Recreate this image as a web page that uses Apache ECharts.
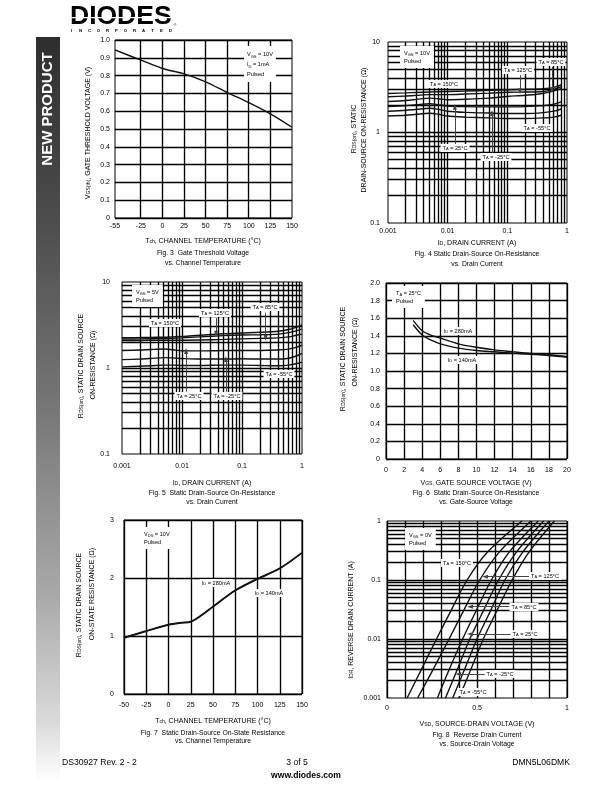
<!DOCTYPE html>
<html><head><meta charset="utf-8">
<script src="https://cdn.jsdelivr.net/npm/echarts@6/dist/echarts.min.js"></script>
<style>html,body{margin:0;padding:0;background:#fff}#c{width:612px;height:792px}</style>
</head><body><div id="c"></div>
<script>
// ================= DATA =================
// Fig 3  Gate threshold voltage vs channel temperature
const fig3Temp = [-55, -25, 0, 25, 50, 75, 100, 125, 150];
const fig3Vth  = [0.944, 0.887, 0.840, 0.810, 0.765, 0.705, 0.648, 0.585, 0.510];
const fig3XTicks = [-55, -25, 0, 25, 50, 75, 100, 125, 150];
const fig3XGrid  = [-25, 0, 25, 50, 75, 100, 125];

// Fig 4  RDS(on) vs ID, VGS = 10V
const fig4Id   = [0.001, 0.002, 0.003, 0.005, 0.007, 0.01, 0.02, 0.05, 0.1, 0.2, 0.4, 0.6, 0.8];
const fig4T150 = [2.70, 2.74, 2.77, 2.80, 2.82, 2.84, 2.87, 2.92, 2.97, 3.00, 3.05, 3.15, 3.35];
const fig4T125 = [2.48, 2.53, 2.57, 2.62, 2.62, 2.62, 2.66, 2.72, 2.78, 2.80, 2.84, 3.00, 3.20];
const fig4T85  = [2.20, 2.26, 2.32, 2.40, 2.36, 2.30, 2.33, 2.40, 2.50, 2.58, 2.70, 2.88, 3.05];
const fig4T25  = [1.93, 1.98, 2.03, 2.08, 2.03, 1.96, 1.93, 1.92, 1.92, 1.93, 1.98, 2.05, 2.18];
const fig4Tm25 = [1.72, 1.76, 1.80, 1.85, 1.80, 1.72, 1.67, 1.64, 1.62, 1.62, 1.66, 1.72, 1.82];
const fig4Tm55 = [1.52, 1.55, 1.59, 1.63, 1.59, 1.52, 1.48, 1.45, 1.43, 1.43, 1.45, 1.48, 1.55];

// Fig 5  RDS(on) vs ID, VGS = 5V
const fig5Id   = [0.001, 0.002, 0.003, 0.005, 0.007, 0.01, 0.02, 0.05, 0.1, 0.2, 0.4, 0.6, 0.8, 1.0];
const fig5T150 = [2.25, 2.26, 2.27, 2.28, 2.30, 2.32, 2.40, 2.50, 2.55, 2.60, 2.68, 2.80, 2.98, 3.17];
const fig5T125 = [2.17, 2.18, 2.19, 2.20, 2.22, 2.24, 2.30, 2.38, 2.42, 2.44, 2.48, 2.58, 2.70, 2.83];
const fig5T85  = [2.08, 2.09, 2.10, 2.10, 2.10, 2.10, 2.12, 2.15, 2.18, 2.21, 2.24, 2.30, 2.40, 2.48];
const fig5T25  = [1.60, 1.62, 1.64, 1.66, 1.63, 1.59, 1.58, 1.60, 1.60, 1.60, 1.62, 1.66, 1.74, 1.84];
const fig5Tm25 = [1.25, 1.27, 1.29, 1.32, 1.31, 1.29, 1.27, 1.27, 1.28, 1.27, 1.27, 1.30, 1.38, 1.48];
const fig5Tm55 = [1.03, 1.05, 1.06, 1.08, 1.08, 1.07, 1.07, 1.08, 1.08, 1.07, 1.06, 1.08, 1.12, 1.17];

// Fig 6  RDS(on) vs VGS
const fig6Vgs  = [3, 4, 5, 6, 8, 10, 12, 14, 16, 18, 20];
const fig6R280 = [1.575, 1.457, 1.405, 1.374, 1.309, 1.270, 1.240, 1.218, 1.200, 1.185, 1.165];
const fig6R140 = [1.526, 1.410, 1.350, 1.309, 1.260, 1.233, 1.218, 1.203, 1.190, 1.176, 1.157];

// Fig 7  RDS(on) vs channel temperature
const fig7Temp = [-50, -25, 0, 15, 25, 35, 50, 75, 100, 125, 150];
const fig7R280 = [0.975, 1.09, 1.20, 1.235, 1.25, 1.34, 1.51, 1.79, 1.99, 2.17, 2.44];
const fig7R140 = [0.965, 1.08, 1.19, 1.225, 1.24, 1.33, 1.50, 1.78, 1.98, 2.16, 2.43];

// Fig 8  Reverse drain current vs source-drain voltage (I, then V per temperature)
const fig8I    = [0.001, 0.003, 0.01, 0.03, 0.1, 0.3, 1.0];
const fig8V150 = [0.112, 0.190, 0.275, 0.355, 0.445, 0.560, 0.750];
const fig8V125 = [0.170, 0.255, 0.345, 0.425, 0.515, 0.625, 0.800];
const fig8V85  = [0.280, 0.345, 0.420, 0.495, 0.580, 0.680, 0.840];
const fig8V25  = [0.325, 0.390, 0.460, 0.535, 0.620, 0.720, 0.870];
const fig8Vm25 = [0.365, 0.430, 0.500, 0.575, 0.655, 0.755, 0.900];
const fig8Vm55 = [0.400, 0.465, 0.535, 0.610, 0.695, 0.790, 0.930];

// tick labels
const idTicks = [0.001, 0.01, 0.1, 1];
const idLabels = ['0.001', '0.01', '0.1', '1'];
const rTicks = [0.1, 1, 10];
const rLabels = ['0.1', '1', '10'];
const irTicks = [0.001, 0.01, 0.1, 1];
const irLabels = ['0.001', '0.01', '0.1', '1'];
const vsdTicks = [0, 0.5, 1];
const vsdLabels = ['0', '0.5', '1'];
const logMult = [2, 3, 4, 5, 6, 7, 8, 9];

// ================= HELPERS =================
const FONT = '"Liberation Sans", Arial, Helvetica, sans-serif';
const PI2 = Math.PI / 2;
const GRID_W = 1.35;
function logGrid(decades) {
  const out = [];
  decades.forEach((d, i) => { if (i > 0) out.push(d); logMult.forEach(m => out.push(+(d * m).toPrecision(6))); });
  return out;
}
function logFmt(ticks, labels) {
  return v => { for (let i = 0; i < ticks.length; i++) { if (Math.abs(Math.log10(ticks[i]) - Math.log10(v)) < 1e-6) return labels[i]; } return ''; };
}
function linFmt(v) { return v === 0 ? '0' : v.toFixed(1); }
const lab = { fontSize: 7, fontFamily: FONT, color: '#000', hideOverlap: false };
const noLine = { show: false };
const blackSplit = { show: true, lineStyle: { color: '#000', width: GRID_W } };

function zip(xs, ys) { return xs.map((x, i) => [x, ys[i]]); }
function curve(gi, data, w) {
  return { type: 'line', xAxisIndex: gi, yAxisIndex: gi, data, showSymbol: false, symbol: 'none',
    smooth: 0.3, lineStyle: { color: '#111', width: w || 1.4 }, z: 3, silent: true, animation: false };
}
function vlines(gi, vals, yAt) {
  return { type: 'custom', xAxisIndex: gi, yAxisIndex: gi, silent: true, z: 1, animation: false,
    data: vals.map(v => [v, yAt]),
    renderItem: (params, api) => {
      const cs = params.coordSys;
      const p = api.coord([api.value(0), api.value(1)]);
      const x = Math.round(p[0] - 0.5) + 0.5;
      return { type: 'line', shape: { x1: x, y1: cs.y, x2: x, y2: cs.y + cs.height }, style: { stroke: '#000', lineWidth: GRID_W } };
    } };
}
function hlines(gi, vals, xAt) {
  return { type: 'custom', xAxisIndex: gi, yAxisIndex: gi, silent: true, z: 1, animation: false,
    data: vals.map(v => [xAt, v]),
    renderItem: (params, api) => {
      const cs = params.coordSys;
      const p = api.coord([api.value(0), api.value(1)]);
      const y = Math.round(p[1] - 0.5) + 0.5;
      return { type: 'line', shape: { x1: cs.x, y1: y, x2: cs.x + cs.width, y2: y }, style: { stroke: '#000', lineWidth: GRID_W } };
    } };
}
function arrows(gi, anchor, list) {
  return { type: 'line', xAxisIndex: gi, yAxisIndex: gi, data: [anchor], showSymbol: false, symbol: 'none',
    lineStyle: { opacity: 0 }, silent: true, z: 5, animation: false,
    markLine: { silent: true, animation: false, symbol: ['none', 'triangle'], symbolSize: [4, 6],
      label: { show: false }, emphasis: { disabled: true },
      lineStyle: { color: '#444', width: 1, type: 'solid' },
      data: list.map(a => [{ coord: [a[0], a[1]] }, { coord: [a[2], a[3]] }]) } };
}
function rich(fs) {
  const s = +(fs * 0.72).toFixed(2);
  return { s: { fontSize: s, lineHeight: s, padding: [+(fs * 0.45).toFixed(2), 0, 0, 0], verticalAlign: 'bottom' } };
}
function T(x, y, text, o) {
  o = o || {};
  const fs = o.fs || 7;
  const al = o.align || 'center';
  const style = { text, fontSize: fs, fontFamily: FONT, fontWeight: o.fw || 'normal', fill: o.color || '#000',
    align: al, textAlign: al, verticalAlign: 'middle', textVerticalAlign: 'middle', rich: rich(fs) };
  if (o.lh) style.lineHeight = o.lh;
  if (o.bg) { style.backgroundColor = o.bg; style.padding = o.pad || [1, 2]; }
  return { type: 'text', x, y, rotation: o.rot || 0, z: 100, silent: true, style };
}
const ann = { fs: 5.6, bg: '#fff', pad: [1, 2] };
const box = (x, y, t) => T(x, y, t, { fs: 5.6, align: 'left', bg: '#fff', pad: [3, 4, 3, 4], lh: 8 });

// ================= LAYOUT =================
const grids = [
  { left: 115, top: 40, width: 177, height: 178 },
  { left: 388, top: 42, width: 179, height: 181 },
  { left: 122, top: 282, width: 180, height: 172 },
  { left: 386, top: 283, width: 181, height: 176 },
  { left: 124, top: 520, width: 178, height: 174 },
  { left: 387, top: 521, width: 180, height: 177 }
].map(g => Object.assign({ show: true, borderColor: '#000', borderWidth: 1, backgroundColor: 'transparent', outerBoundsMode: 'none' }, g));

const xAxis = [
  { gridIndex: 0, type: 'value', min: -55, max: 150, interval: 5, axisLine: noLine, axisTick: noLine, splitLine: noLine,
    axisLabel: Object.assign({}, lab, { margin: 4.5, formatter: v => fig3XTicks.indexOf(v) >= 0 ? String(v) : '' }) },
  { gridIndex: 1, type: 'log', logBase: 10, min: 0.001, max: 1, axisLine: noLine, axisTick: noLine, splitLine: noLine,
    axisLabel: Object.assign({}, lab, { margin: 5, formatter: logFmt(idTicks, idLabels) }) },
  { gridIndex: 2, type: 'log', logBase: 10, min: 0.001, max: 1, axisLine: noLine, axisTick: noLine, splitLine: noLine,
    axisLabel: Object.assign({}, lab, { margin: 9, formatter: logFmt(idTicks, idLabels) }) },
  { gridIndex: 3, type: 'value', min: 0, max: 20, interval: 2, axisLine: noLine, axisTick: noLine, splitLine: blackSplit,
    axisLabel: Object.assign({}, lab, { margin: 7.5 }) },
  { gridIndex: 4, type: 'value', min: -50, max: 150, interval: 25, axisLine: noLine, axisTick: noLine, splitLine: blackSplit,
    axisLabel: Object.assign({}, lab, { margin: 7.5 }) },
  { gridIndex: 5, type: 'value', min: 0, max: 1, interval: 0.1, axisLine: noLine, axisTick: noLine, splitLine: blackSplit,
    axisLabel: Object.assign({}, lab, { margin: 6.5, formatter: v => { for (let i = 0; i < vsdTicks.length; i++) if (Math.abs(v - vsdTicks[i]) < 1e-9) return vsdLabels[i]; return ''; } }) }
];
const yAxis = [
  { gridIndex: 0, type: 'value', min: 0, max: 1, interval: 0.1, axisLine: noLine, axisTick: noLine, splitLine: blackSplit,
    axisLabel: Object.assign({}, lab, { margin: 5, formatter: linFmt }) },
  { gridIndex: 1, type: 'log', logBase: 10, min: 0.1, max: 10, axisLine: noLine, axisTick: noLine, splitLine: noLine,
    axisLabel: Object.assign({}, lab, { margin: 8, formatter: logFmt(rTicks, rLabels) }) },
  { gridIndex: 2, type: 'log', logBase: 10, min: 0.1, max: 10, axisLine: noLine, axisTick: noLine, splitLine: noLine,
    axisLabel: Object.assign({}, lab, { margin: 12, formatter: logFmt(rTicks, rLabels) }) },
  { gridIndex: 3, type: 'value', min: 0, max: 2, interval: 0.2, axisLine: noLine, axisTick: noLine, splitLine: blackSplit,
    axisLabel: Object.assign({}, lab, { margin: 6, formatter: linFmt }) },
  { gridIndex: 4, type: 'value', min: 0, max: 3, interval: 1, axisLine: noLine, axisTick: noLine, splitLine: blackSplit,
    axisLabel: Object.assign({}, lab, { margin: 10 }) },
  { gridIndex: 5, type: 'log', logBase: 10, min: 0.001, max: 1, axisLine: noLine, axisTick: noLine, splitLine: noLine,
    axisLabel: Object.assign({}, lab, { margin: 6, formatter: logFmt(irTicks, irLabels) }) }
];

const series = [
  // Fig 3
  vlines(0, fig3XGrid, 0),
  curve(0, zip(fig3Temp, fig3Vth)),
  // Fig 4
  vlines(1, logGrid([0.001, 0.01, 0.1]), 0.1),
  hlines(1, logGrid([0.1, 1]), 0.001),
  curve(1, zip(fig4Id, fig4T150)), curve(1, zip(fig4Id, fig4T125)), curve(1, zip(fig4Id, fig4T85)),
  curve(1, zip(fig4Id, fig4T25)), curve(1, zip(fig4Id, fig4Tm25)), curve(1, zip(fig4Id, fig4Tm55)),
  arrows(1, [0.001, 0.1], [
    [0.56, 5.3, 0.56, 2.95], [0.163, 4.3, 0.163, 2.85], [0.0132, 0.73, 0.0132, 1.93], [0.0552, 0.58, 0.0552, 1.64]
  ]),
  // Fig 5
  vlines(2, logGrid([0.001, 0.01, 0.1]), 0.1),
  hlines(2, logGrid([0.1, 1]), 0.001),
  curve(2, zip(fig5Id, fig5T150)), curve(2, zip(fig5Id, fig5T125)), curve(2, zip(fig5Id, fig5T85)),
  curve(2, zip(fig5Id, fig5T25)), curve(2, zip(fig5Id, fig5Tm25)), curve(2, zip(fig5Id, fig5Tm55)),
  arrows(2, [0.001, 0.1], [
    [0.0369, 3.8, 0.0369, 2.5], [0.248, 4.4, 0.248, 2.24], [0.0117, 0.53, 0.0117, 1.58], [0.054, 0.53, 0.054, 1.27]
  ]),
  // Fig 6
  curve(3, zip(fig6Vgs, fig6R280)), curve(3, zip(fig6Vgs, fig6R140)),
  // Fig 7
  curve(4, zip(fig7Temp, fig7R280)), curve(4, zip(fig7Temp, fig7R140)),
  // Fig 8
  hlines(5, logGrid([0.001, 0.01, 0.1]), 0),
  curve(5, zip(fig8V150, fig8I)), curve(5, zip(fig8V125, fig8I)), curve(5, zip(fig8V85, fig8I)),
  curve(5, zip(fig8V25, fig8I)), curve(5, zip(fig8Vm25, fig8I)), curve(5, zip(fig8Vm55, fig8I)),
  arrows(5, [0, 0.001], [
    [0.79, 0.1137, 0.544, 0.1137], [0.68, 0.0353, 0.461, 0.0353], [0.69, 0.01216, 0.461, 0.01216], [0.553, 0.00255, 0.396, 0.00255]
  ])
];

// ================= TEXT / DECORATION =================
const letters = 'INCORPORATED'.split('');
const graphic = [
  { type: 'rect', z: 0, silent: true, shape: { x: 36, y: 37, width: 24, height: 745 },
    style: { fill: { type: 'linear', x: 0, y: 0, x2: 0, y2: 1, colorStops: [
      { offset: 0, color: '#2e2e2e' }, { offset: 0.25, color: '#4d4d4d' }, { offset: 0.5, color: '#777777' },
      { offset: 0.75, color: '#a9a9a9' }, { offset: 0.92, color: '#dadada' }, { offset: 1, color: '#ffffff' } ] } } },
  T(48, 109, 'NEW PRODUCT', { fs: 15, fw: 'bold', color: '#fff', rot: PI2 }),
  T(70, 17, 'DIODES', { fs: 26.5, fw: 'bold', align: 'left' }),
  { type: 'rect', z: 101, silent: true, shape: { x: 70, y: 17, width: 106, height: 1.2 }, style: { fill: '#fff' } },
  T(175, 25, '®', { fs: 4 }),
  ...letters.map((c, i) => T(71.5 + i * 9, 30.5, c, { fs: 4.3, fw: 'bold' })),

  // Fig 3
  T(88, 133, 'V{s|GS(th)}, GATE THRESHOLD VOLTAGE (V)', { rot: PI2 }),
  T(203, 241, 'T{s|ch}, CHANNEL TEMPERATURE (°C)'),
  T(203, 253, 'Fig. 3  Gate Threshold Voltage', { fs: 6.8 }),
  T(203, 263, 'vs. Channel Temperature', { fs: 6.8 }),
  T(244, 64, 'V{s|GS} = 10V\nI{s|D} = 1mA\nPulsed', { fs: 5.6, align: 'left', bg: '#fff', pad: [3, 3, 3, 3], lh: 10 }),

  // Fig 4
  T(354, 129, 'R{s|DS(on)}, STATIC', { rot: PI2 }),
  T(364, 130, 'DRAIN-SOURCE ON-RESISTANCE (Ω)', { rot: PI2 }),
  T(477, 243, 'I{s|D}, DRAIN CURRENT (A)'),
  T(477, 254, 'Fig. 4 Static Drain-Source On-Resistance', { fs: 6.8 }),
  T(477, 264, 'vs. Drain Current', { fs: 6.8 }),
  box(400, 57, 'V{s|GS} = 10V\nPulsed'),
  T(551, 62, 'T{s|A} = 85°C', ann),
  T(518, 70, 'T{s|A} = 125°C', ann),
  T(444, 84, 'T{s|A} = 150°C', ann),
  T(455, 148, 'T{s|A} = 25°C', ann),
  T(496, 157, 'T{s|A} = -25°C', ann),
  T(537, 128, 'T{s|A} = -55°C', ann),

  // Fig 5
  T(81, 366, 'R{s|DS(on)}, STATIC DRAIN SOURCE', { rot: PI2 }),
  T(93, 365, 'ON-RESISTANCE (Ω)', { rot: PI2 }),
  T(212, 483, 'I{s|D}, DRAIN CURRENT (A)'),
  T(212, 493, 'Fig. 5  Static Drain-Source On-Resistance', { fs: 6.8 }),
  T(212, 502, 'vs. Drain Current', { fs: 6.8 }),
  box(132, 296, 'V{s|GS} = 5V\nPulsed'),
  T(165, 323, 'T{s|A} = 150°C', ann),
  T(215, 313, 'T{s|A} = 125°C', ann),
  T(265, 307, 'T{s|A} = 85°C', ann),
  T(189, 396, 'T{s|A} = 25°C', ann),
  T(227, 396, 'T{s|A} = -25°C', ann),
  T(279, 374, 'T{s|A} = -55°C', ann),

  // Fig 6
  T(343, 359, 'R{s|DS(on)}, STATIC DRAIN SOURCE', { rot: PI2 }),
  T(355, 352, 'ON-RESISTANCE (Ω)', { rot: PI2 }),
  T(476, 483, 'V{s|GS,} GATE SOURCE VOLTAGE (V)'),
  T(476, 493, 'Fig. 6  Static Drain-Source On-Resistance', { fs: 6.8 }),
  T(476, 502, 'vs. Gate-Source Voltage', { fs: 6.8 }),
  box(392, 297, 'T{s|A} = 25°C\nPulsed'),
  T(458, 331, 'I{s|D} = 280mA', ann),
  T(462, 360, 'I{s|D} = 140mA', ann),

  // Fig 7
  T(79, 605, 'R{s|DS(on)}, STATIC DRAIN SOURCE', { rot: PI2 }),
  T(92, 594, 'ON-STATE RESISTANCE (Ω)', { rot: PI2 }),
  T(213, 721, 'T{s|ch}, CHANNEL TEMPERATURE (°C)'),
  T(213, 733, 'Fig. 7  Static Drain-Source On-State Resistance', { fs: 6.8 }),
  T(213, 741, 'vs. Channel Temperature', { fs: 6.8 }),
  box(140, 538, 'V{s|DS} = 10V\nPulsed'),
  T(216, 583, 'I{s|D} = 280mA', ann),
  T(269, 593, 'I{s|D} = 140mA', ann),

  // Fig 8
  T(351, 620, 'I{s|DR}, REVERSE DRAIN CURRENT (A)', { rot: PI2 }),
  T(477, 724, 'V{s|SD}, SOURCE-DRAIN VOLTAGE (V)'),
  T(477, 735, 'Fig. 8  Reverse Drain Current', { fs: 6.8 }),
  T(477, 744, 'vs. Source-Drain Voltage', { fs: 6.8 }),
  box(405, 539, 'V{s|GS} = 0V\nPulsed'),
  T(457, 563, 'T{s|A} = 150°C', ann),
  T(545, 576, 'T{s|A} = 125°C', ann),
  T(524, 607, 'T{s|A} = 85°C', ann),
  T(525, 634, 'T{s|A} = 25°C', ann),
  T(500, 674, 'T{s|A} = -25°C', ann),
  T(473, 692, 'T{s|A} = -55°C', ann),

  // footer
  T(62, 763, 'DS30927 Rev. 2 - 2', { fs: 8.6, align: 'left' }),
  T(297, 763, '3 of 5', { fs: 8.6 }),
  T(570, 763, 'DMN5L06DMK', { fs: 8.6, align: 'right' }),
  T(306, 776, 'www.diodes.com', { fs: 8.6, fw: 'bold' })
];

const chart = echarts.init(document.getElementById('c'), null, { renderer: 'canvas' });
chart.setOption({ animation: false, backgroundColor: '#fff', grid: grids, xAxis, yAxis, series, graphic });
</script></body></html>
